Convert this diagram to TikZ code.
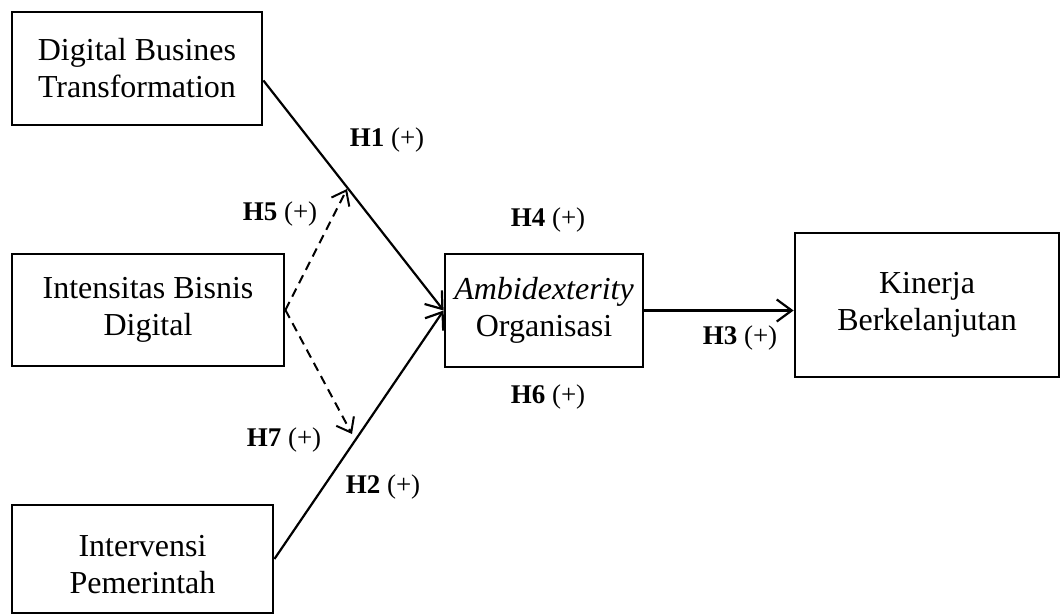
\documentclass[tikz,border=0pt]{standalone}
\usepackage{fontspec}
\setmainfont{Liberation Serif}
\usetikzlibrary{arrows.meta}
\begin{document}
\begin{tikzpicture}[x=1pt,y=-1pt,
  box/.style={draw, line width=2.8pt, align=center, inner sep=0pt,
    font=\fontsize{32}{37}\selectfont},
  lab/.style={font=\fontsize{27}{30}\selectfont, inner sep=0pt},
  arr/.style={line width=2.2pt, -{Straight Barb[length=15pt,width=22pt,line width=2.2pt]}},
  darr/.style={line width=2pt, dash pattern=on 9pt off 6pt, -{Straight Barb[length=13pt,width=20pt,line width=2pt]}}]
\useasboundingbox (0,0) rectangle (1061,615);
\node[box, minimum width=250pt, minimum height=113pt] (b1) at (137,68.5) {Digital Busines\\Transformation};
\node[box, minimum width=272pt, minimum height=112pt] (b2) at (148,310) {Intensitas Bisnis\\Digital};
\node[box, minimum width=198pt, minimum height=113pt] (b3) at (544,310.5) {\textit{Ambidexterity}\\Organisasi};
\node[box, minimum width=264pt, minimum height=144pt] (b4) at (927,305) {Kinerja\\Berkelanjutan};
\node[box, minimum width=261pt, minimum height=108pt] (b5) at (142.5,559) {};
\node[font=\fontsize{32}{37}\selectfont, align=center, inner sep=0pt] (t5) at (142.5,565) {Intervensi\\Pemerintah};
\coordinate (m1) at (347,189);
\coordinate (m2) at (352,434);
\draw[arr] ([yshift=-12pt]b1.east) -- (b3.west);
\draw[arr] (b5.east) -- (b3.west);
\draw[arr] (b3.east) -- (b3.east -| b4.west);
\draw[darr] (b2.east) -- (m1);
\draw[darr] (b2.east) -- (m2);
\node[lab] (h1) at (387,140) {\textbf{H1} (+)};
\node[lab] (h5) at (280,214) {\textbf{H5} (+)};
\node[lab] (h4) at (548,220) {\textbf{H4} (+)};
\node[lab] (h3) at (740,338) {\textbf{H3} (+)};
\node[lab] (h6) at (548,397) {\textbf{H6} (+)};
\node[lab] (h7) at (284,440) {\textbf{H7} (+)};
\node[lab] (h2) at (383,487) {\textbf{H2} (+)};
\end{tikzpicture}
\end{document}
